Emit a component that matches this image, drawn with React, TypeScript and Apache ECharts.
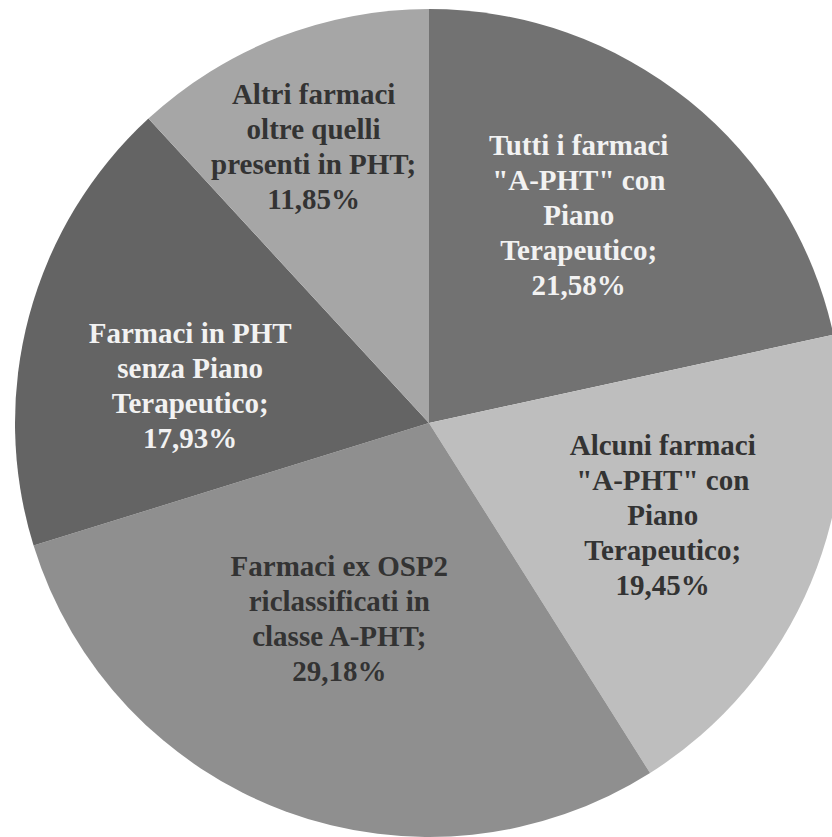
import React, { useEffect, useRef } from "react";
import * as echarts from "echarts";

const categories: string[] = [
  'Tutti i farmaci\n"A-PHT" con\nPiano\nTerapeutico',
  'Alcuni farmaci\n"A-PHT" con\nPiano\nTerapeutico',
  "Farmaci ex OSP2\nriclassificati in\nclasse A-PHT",
  "Farmaci in PHT\nsenza Piano\nTerapeutico",
  "Altri farmaci\noltre quelli\npresenti in PHT",
];
const values: number[] = [21.58, 19.45, 29.18, 17.93, 11.85];

const sliceColors = ["#727272", "#bebebe", "#8f8f8f", "#646464", "#a6a6a6"];
const textColors = ["#f2f2f2", "#333333", "#333333", "#f2f2f2", "#333333"];
const labelShift: [number, number][] = [
  [18, -44],
  [40, 11],
  [-17, -2],
  [-36, 17],
  [-39, -81],
];

export default function App() {
  const ref = useRef<HTMLDivElement>(null);
  useEffect(() => {
    if (!ref.current) return;
    const chart = echarts.init(ref.current, null, { renderer: "svg" });
    chart.setOption({
      animation: false,
      backgroundColor: "#ffffff",
      series: [
        {
          type: "pie",
          center: [429, 423],
          radius: [0, 414],
          startAngle: 90,
          clockwise: true,
          avoidLabelOverlap: false,
          itemStyle: { borderWidth: 0 },
          label: {
            show: true,
            position: "inside",
            fontFamily: "'Liberation Serif', 'Times New Roman', serif",
            fontWeight: "bold",
            fontSize: 29,
            lineHeight: 35,
            align: "center",
            formatter: (p: any) =>
              `${p.name};\n${Number(p.value).toFixed(2).replace(".", ",")}%`,
          },
          labelLine: { show: false },
          labelLayout: (p: any) => {
            const s = labelShift[p.dataIndex] || [0, 0];
            return { dx: s[0], dy: s[1] };
          },
          data: values.map((v, i) => ({
            name: categories[i],
            value: v,
            itemStyle: { color: sliceColors[i] },
            label: { color: textColors[i] },
          })),
        },
      ],
    });
    return () => chart.dispose();
  }, []);
  return (
    <div
      ref={ref}
      style={{ position: "absolute", left: 0, top: 0, width: 832, height: 837 }}
    />
  );
}
